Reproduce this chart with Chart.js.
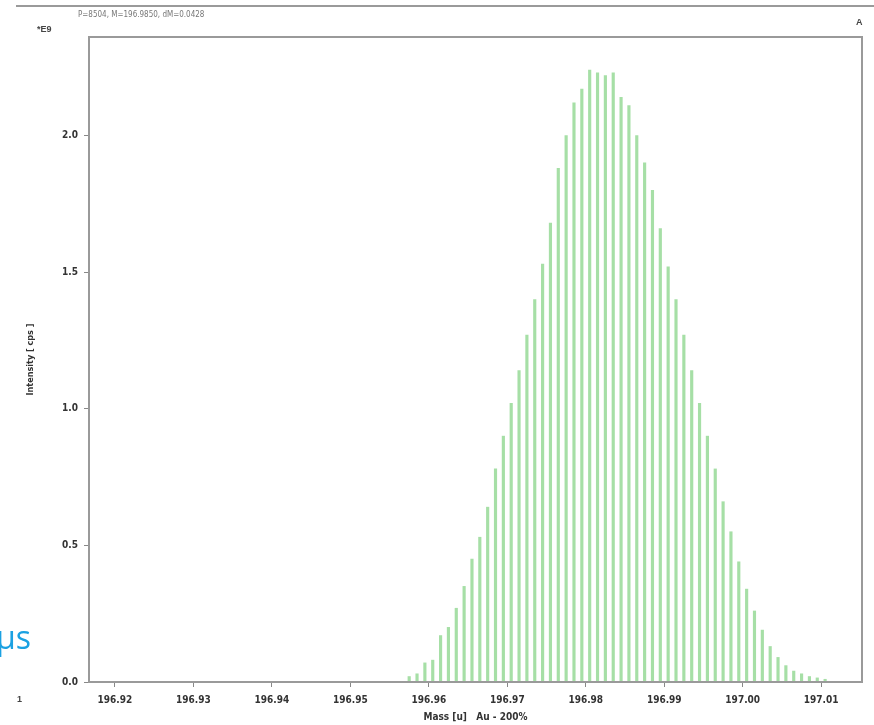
<!DOCTYPE html>
<html>
<head>
<meta charset="utf-8">
<script src="https://cdn.jsdelivr.net/npm/chart.js@4/dist/chart.umd.min.js"></script>
<style>
  html, body { margin: 0; padding: 0; background: #fff; }
  #wrap { width: 874px; height: 725px; position: relative; }
</style>
</head>
<body>
<div id="wrap"><canvas id="spectrum" width="874" height="725"></canvas></div>
<script>
// mass bins [u] and intensities [x1e9 cps]
const masses = [
  196.9575, 196.9585, 196.9595, 196.9605, 196.9615, 196.9625, 196.9635, 196.9645, 196.9655, 196.9665,
  196.9675, 196.9685, 196.9695, 196.9705, 196.9715, 196.9725, 196.9735, 196.9745, 196.9755, 196.9765,
  196.9775, 196.9785, 196.9795, 196.9805, 196.9815, 196.9825, 196.9835, 196.9845, 196.9855, 196.9865,
  196.9875, 196.9885, 196.9895, 196.9905, 196.9915, 196.9925, 196.9935, 196.9945, 196.9955, 196.9965,
  196.9975, 196.9985, 196.9995, 197.0005, 197.0015, 197.0025, 197.0035, 197.0045, 197.0055, 197.0065,
  197.0075, 197.0085, 197.0095, 197.0105
]
const intensity = [
  0.02, 0.03, 0.07, 0.08, 0.17, 0.20, 0.27, 0.35, 0.45, 0.53,
  0.64, 0.78, 0.90, 1.02, 1.14, 1.27, 1.40, 1.53, 1.68, 1.88,
  2.00, 2.12, 2.17, 2.24, 2.23, 2.22, 2.23, 2.14, 2.11, 2.00,
  1.90, 1.80, 1.66, 1.52, 1.40, 1.27, 1.14, 1.02, 0.90, 0.78,
  0.66, 0.55, 0.44, 0.34, 0.26, 0.19, 0.13, 0.09, 0.06, 0.04,
  0.03, 0.02, 0.015, 0.01
]
const xTicks = [196.92, 196.93, 196.94, 196.95, 196.96, 196.97, 196.98, 196.99, 197.00, 197.01]
const yTicks = [0.0, 0.5, 1.0, 1.5, 2.0]

const tickFont = { family: "'Liberation Sans Narrow', 'DejaVu Sans Condensed', sans-serif", size: 10, weight: 'bold' }

// frame + loose labels around the plot
const extras = {
  id: 'extras',
  afterDraw(chart) {
    const c = chart.ctx
    const a = chart.chartArea
    c.save()
    c.strokeStyle = '#9a9a9a'
    c.lineWidth = 2
    c.strokeRect(a.left, a.top, a.right - a.left, a.bottom - a.top)
    c.beginPath()
    c.moveTo(16, 6)
    c.lineTo(874, 6)
    c.stroke()

    c.fillStyle = '#777'
    c.font = "8px 'DejaVu Sans Condensed', sans-serif"
    c.textBaseline = 'middle'
    c.fillText('P=8504, M=196.9850, dM=0.0428', 78, 15)
    c.fillStyle = '#444'
    c.font = "bold 9px 'Liberation Sans Narrow', sans-serif"
    c.fillText('*E9', 37, 30)
    c.fillText('A', 856, 23)
    c.fillText('1', 17, 700)
    c.fillStyle = '#1ba1e2'
    c.font = "32px 'Open Sans', sans-serif"
    c.fillText('μs', -4, 640)
    c.restore()
  }
}

new Chart(document.getElementById('spectrum'), {
  type: 'bar',
  data: {
    datasets: [{
      data: masses.map((m, i) => ({ x: m, y: intensity[i] })),
      backgroundColor: '#a6dfa6',
      borderWidth: 0,
      barThickness: 2.5
    }]
  },
  options: {
    responsive: false,
    animation: false,
    layout: { padding: { top: 37, right: 12, left: 0, bottom: 0 } },
    plugins: { legend: { display: false }, tooltip: { enabled: false } },
    scales: {
      x: {
        type: 'linear',
        min: 196.9167,
        max: 197.0152,
        offset: false,
        grid: { drawOnChartArea: false, offset: false, tickLength: 5, color: '#888' },
        border: { display: false },
        afterBuildTicks: s => { s.ticks = xTicks.map(v => ({ value: v })) },
        afterFit: s => { s.height = 43 },
        ticks: {
          color: '#333',
          font: tickFont,
          padding: 7,
          maxRotation: 0,
          autoSkip: false,
          callback: v => v.toFixed(2)
        },
        title: {
          display: true,
          text: 'Mass [u]   Au - 200%',
          color: '#333',
          font: tickFont,
          padding: { top: 0, bottom: 2 }
        }
      },
      y: {
        min: 0,
        max: 2.361,
        grid: { drawOnChartArea: false, tickLength: 5, color: '#888' },
        border: { display: false },
        afterBuildTicks: s => { s.ticks = yTicks.map(v => ({ value: v })) },
        afterFit: s => { s.width = 89 },
        ticks: {
          color: '#333',
          font: tickFont,
          padding: 6,
          callback: v => v.toFixed(1)
        },
        title: {
          display: true,
          text: 'Intensity [ cps ]',
          color: '#333',
          font: { family: tickFont.family, size: 9, weight: 'bold' },
          padding: { top: 25, bottom: 0 }
        }
      }
    }
  },
  plugins: [extras]
})
</script>
</body>
</html>
